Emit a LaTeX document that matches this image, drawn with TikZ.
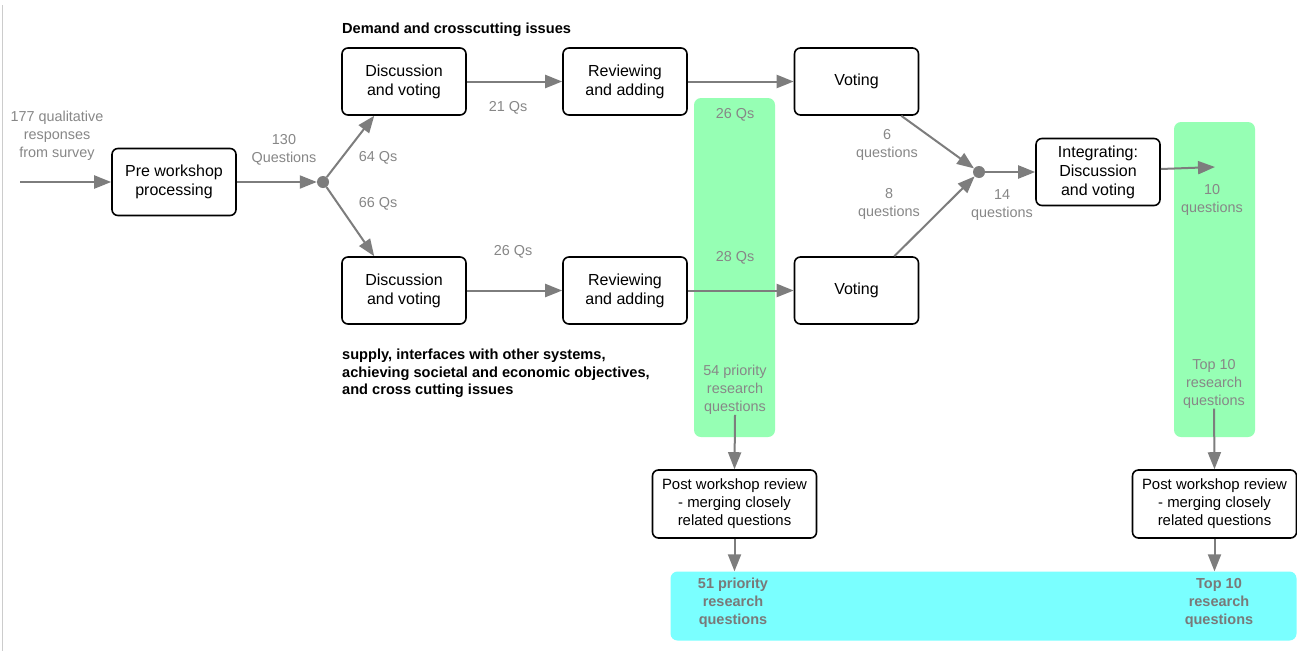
\documentclass[tikz,border=0pt]{standalone}
\usepackage{fontspec}
\setmainfont{Liberation Sans}
\usetikzlibrary{arrows.meta,calc}
\definecolor{lblgray}{RGB}{135,135,135}
\definecolor{linegray}{RGB}{125,125,125}
\definecolor{mint}{RGB}{150,255,180}
\definecolor{aqua}{RGB}{122,255,255}
\tikzset{
  procbox/.style={draw=black,line width=1.6pt,rounded corners=6pt,fill=white,
    minimum width=124pt,minimum height=67pt,align=center,inner sep=0pt,
    font=\fontsize{16}{19}\selectfont},
  postbox/.style={procbox,minimum width=164pt,minimum height=68pt,
    font=\fontsize{14.9}{18}\selectfont},
  lbl/.style={text=lblgray,align=center,inner sep=0pt,font=\fontsize{14.4}{18}\selectfont},
  boldlbl/.style={text=black,align=left,inner sep=0pt,font=\bfseries\fontsize{14.6}{17.5}\selectfont},
  reslbl/.style={text=lblgray!90!black,align=center,inner sep=0pt,font=\bfseries\fontsize{14.5}{18}\selectfont},
  flow/.style={draw=linegray,line width=2pt,-{Triangle[length=17pt,width=13pt]}},
  junction/.style={circle,fill=linegray,minimum size=12pt,inner sep=0pt},
  column/.style={fill=mint,rounded corners=7pt,inner sep=0pt},
}
\begin{document}
\begin{tikzpicture}[x=1pt,y=-1pt]
\useasboundingbox (0,0) rectangle (1297,651);
\fill[white] (0,0) rectangle (1297,651);
% left rule
\draw[black!20,line width=1.5pt] (2.5,5) coordinate (ruletop) -- (2.5,651) coordinate (rulebot);
% background columns
\node[column,minimum width=81pt,minimum height=339pt] (g1) at (734.5,267.5) {};
\node[column,minimum width=81pt,minimum height=315pt] (g2) at (1214.5,279.5) {};
\node[fill=aqua,rounded corners=7pt,inner sep=0pt,minimum width=626pt,minimum height=69pt] (cy) at (983.5,606) {};
% headers
\node[boldlbl,anchor=west] (hdem) at (342,30) {Demand and crosscutting issues};
\node[boldlbl,anchor=north west] (hsup) at (342,349) {supply, interfaces with other systems,\\achieving societal and economic objectives,\\and cross cutting issues};
% boxes
\node[procbox] (pre) at (174,182) {Pre workshop\\processing};
\node[junction] (j1) at (323,182) {};
\node[procbox] (dtop) at (404,81.5) {Discussion\\and voting};
\node[procbox] (dbot) at (404,290.5) {Discussion\\and voting};
\node[procbox] (rtop) at (625,81.5) {Reviewing\\and adding};
\node[procbox] (rbot) at (625,290.5) {Reviewing\\and adding};
\node[procbox] (vtop) at (856.5,81.5) {Voting};
\node[procbox] (vbot) at (856.5,290.5) {Voting};
\node[junction] (j2) at (979,172) {};
\node[procbox] (integ) at (1098,172) {Integrating:\\Discussion\\and voting};
\node[postbox] (post1) at (734.5,504) {Post workshop review\\- merging closely\\related questions};
\node[postbox] (post2) at (1214.5,504) {Post workshop review\\- merging closely\\related questions};
% labels
\node[lbl] (l177) at (57,136) {177 qualitative\\responses\\from survey};
\node[lbl] (l130) at (284,150) {130\\Questions};
\node[lbl] (l64) at (378,158) {64 Qs};
\node[lbl] (l66) at (378,204) {66 Qs};
\node[lbl] (l21) at (508,108) {21 Qs};
\node[lbl] (l26) at (513,252) {26 Qs};
\node[lbl] (g26) at (735,115) {26 Qs};
\node[lbl] (g28) at (735,258) {28 Qs};
\node[lbl] (q54) at (735,390) {54 priority\\research\\questions};
\node[lbl] (l6) at (887,145) {6\\questions};
\node[lbl] (l8) at (889,204) {8\\questions};
\node[lbl] (l14) at (1002,205) {14\\questions};
\node[lbl] (q10) at (1212,200) {10\\questions};
\node[lbl] (t10) at (1214,384) {Top 10\\research\\questions};
\node[reslbl] (r51) at (733,603) {51 priority\\research\\questions};
\node[reslbl] (rt10) at (1219,603) {Top 10\\research\\questions};
% connectors
\coordinate (src) at (20,182);
\draw[flow] (src) -- (pre.west);
\draw[flow] (pre.east) -- (j1);
\draw[flow] (j1) -- ([xshift=33pt]dtop.south west);
\draw[flow] (j1) -- ([xshift=33pt]dbot.north west);
\draw[flow] (dtop.east) -- (rtop.west);
\draw[flow] (dbot.east) -- (rbot.west);
\draw[flow] (rtop.east) -- (vtop.west);
\draw[flow] (rbot.east) -- (vbot.west);
\draw[flow] ([xshift=-18pt]vtop.south east) -- (j2);
\draw[flow] ([xshift=-25pt]vbot.north east) -- (j2);
\draw[flow] (j2) -- (integ.west);
\coordinate (tenend) at (1215,167);
\draw[flow] ([yshift=3pt]integ.east) -- (tenend);
\draw[flow] (q54.south) -- (post1.north);
\draw[flow] (t10.south) -- (post2.north);
\draw[flow] (post1.south) -- (post1.south |- cy.north);
\draw[flow] (post2.south) -- (post2.south |- cy.north);
\end{tikzpicture}
\end{document}
